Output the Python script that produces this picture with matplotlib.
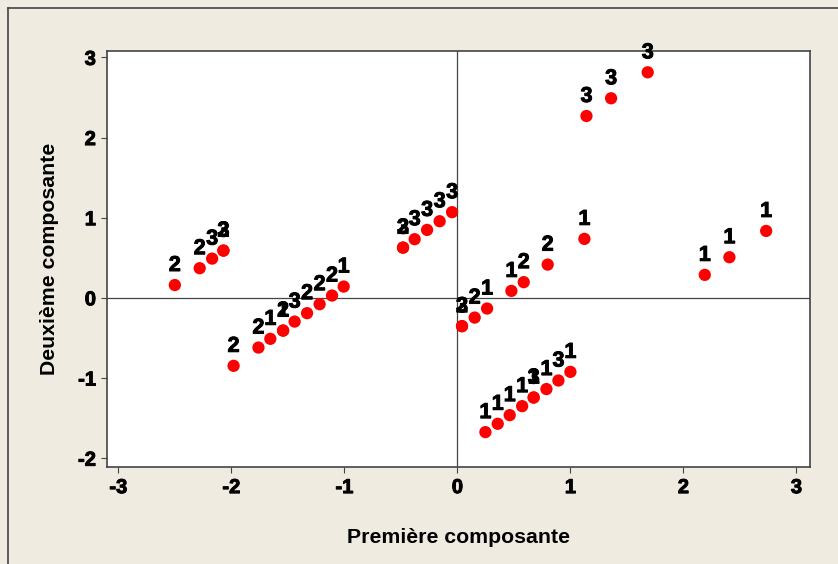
import matplotlib.pyplot as plt
import matplotlib.patheffects as pe
from matplotlib.lines import Line2D

# scores on the first two components, with group labels
x_vals = [-2.50, -2.28, -2.17, -2.07, -2.07,
          -1.98, -1.76, -1.655, -1.542, -1.542, -1.44, -1.33, -1.219, -1.109, -1.006,
          -0.481, -0.481, -0.378, -0.268, -0.157, -0.047,
          0.041, 0.041, 0.153, 0.263, 0.478, 0.587, 0.799, 1.124,
          0.248, 0.357, 0.463, 0.573, 0.675, 0.675, 0.788, 0.894, 1.00,
          1.142, 1.360, 1.684,
          2.189, 2.407, 2.732]
y_vals = [0.16, 0.37, 0.49, 0.59, 0.59,
          -0.848, -0.62, -0.511, -0.408, -0.408, -0.296, -0.191, -0.079, 0.029, 0.141,
          0.627, 0.627, 0.732, 0.848, 0.956, 1.069,
          -0.353, -0.353, -0.246, -0.133, 0.087, 0.196, 0.415, 0.736,
          -1.675, -1.571, -1.463, -1.351, -1.243, -1.243, -1.138, -1.031, -0.923,
          2.269, 2.490, 2.814,
          0.287, 0.507, 0.835]
groups = ['2', '2', '3', '3', '2',
          '2', '2', '1', '1', '2', '3', '2', '2', '2', '1',
          '3', '2', '3', '3', '3', '3',
          '3', '2', '2', '1', '1', '2', '2', '1',
          '1', '1', '1', '1', '1', '3', '1', '3', '1',
          '3', '3', '3',
          '1', '1', '1']

x_ticks = [-3, -2, -1, 0, 1, 2, 3]
y_ticks = [-2, -1, 0, 1, 2, 3]

plt.rcParams['font.family'] = ['Liberation Sans', 'DejaVu Sans']
plt.rcParams['axes.unicode_minus'] = False

heavy = [pe.withStroke(linewidth=0.7, foreground='black')]

fig = plt.figure(figsize=(8.38, 5.64), dpi=100)
fig.patch.set_facecolor('#EFEBE1')
ax = fig.add_axes([0.1277, 0.172, 0.8389, 0.7376])
ax.set_facecolor('white')

# figure frame (top and left edges visible)
fig.add_artist(Line2D([8 / 838, 8 / 838], [0, 1 - 8 / 564], transform=fig.transFigure,
                      color='#444444', lw=1.2))
fig.add_artist(Line2D([8 / 838, 1], [1 - 8 / 564, 1 - 8 / 564], transform=fig.transFigure,
                      color='#444444', lw=1.2))

ax.axhline(0, color='#444444', lw=0.9, zorder=1)
ax.axvline(0, color='#444444', lw=0.9, zorder=1)

ax.scatter(x_vals, y_vals, s=78, color='#FF0000', edgecolors='none', zorder=3)
for xv, yv, g in zip(x_vals, y_vals, groups):
    ax.annotate(g, (xv, yv), xytext=(0, 6.5), textcoords='offset points',
                ha='center', va='bottom', fontsize=15.5, fontweight='bold', zorder=4,
                path_effects=heavy)

ax.set_xlim(-3.10, 3.12)
ax.set_ylim(-2.11, 3.08)
ax.set_xticks(x_ticks)
ax.set_yticks(y_ticks)
ax.tick_params(direction='out', length=4, width=0.8, color='#444444',
               labelsize=14.5, pad=4)
for lbl in ax.get_xticklabels() + ax.get_yticklabels():
    lbl.set_fontweight('bold')
    lbl.set_path_effects(heavy)
for sp in ax.spines.values():
    sp.set_color('#444444')
    sp.set_linewidth(1.2)

ax.set_xlabel('Première composante', fontsize=15.3, fontweight='bold', labelpad=22)
ax.set_ylabel('Deuxième composante', fontsize=15.3, fontweight='bold', labelpad=14)

plt.savefig('out.png', dpi=100, facecolor=fig.get_facecolor())
plt.close()
